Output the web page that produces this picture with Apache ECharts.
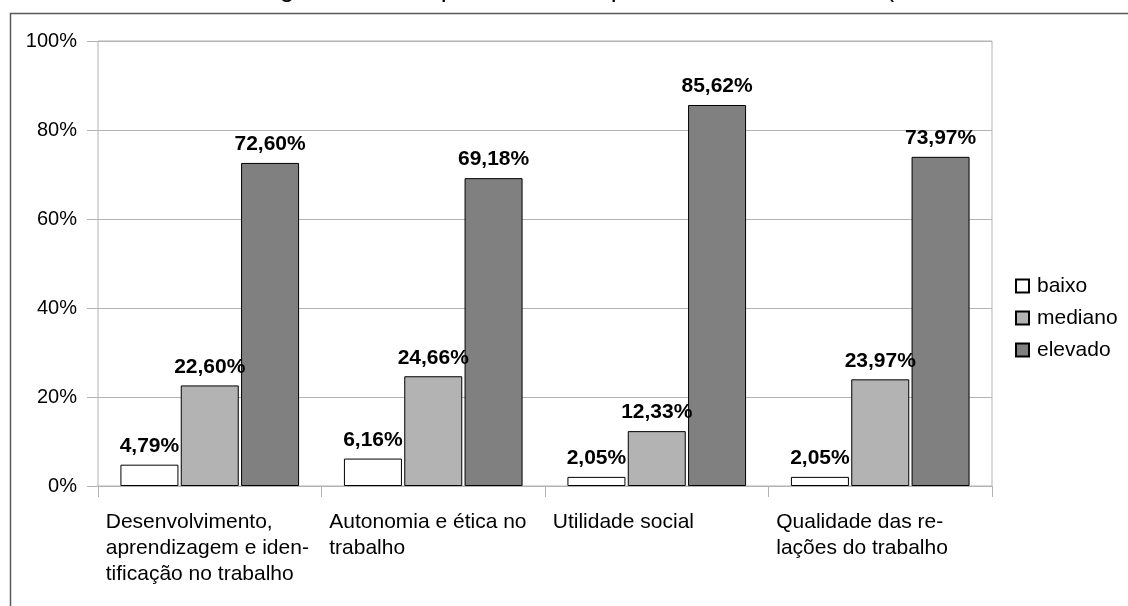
<!DOCTYPE html>
<html>
<head>
<meta charset="utf-8">
<script src="https://cdn.jsdelivr.net/npm/echarts@6/dist/echarts.min.js"></script>
<style>
html,body{margin:0;padding:0;background:#fff;}
#c{width:1128px;height:606px;}
</style>
</head>
<body>
<div id="c"></div>
<script>
const titleText = "Percentagem do nível por dimensão para os colaboradores (amostra total de servidores)";
const categories = [
  "Desenvolvimento,\naprendizagem e iden-\ntificação no trabalho",
  "Autonomia e ética no\ntrabalho",
  "Utilidade social",
  "Qualidade das re-\nlações do trabalho"
];
const seriesNames = ["baixo", "mediano", "elevado"];
const baixo = [4.79, 6.16, 2.05, 2.05];
const mediano = [22.60, 24.66, 12.33, 23.97];
const elevado = [72.60, 69.18, 85.62, 73.97];
const yTicks = [0, 20, 40, 60, 80, 100];

const colors = ["#ffffff", "#b3b3b3", "#808080"];
const FONT = "Liberation Sans, Arial, sans-serif";
const valueSets = [baixo, mediano, elevado];

// fit the (mostly cropped-off) title so its visible descenders line up with the reference
const mctx = document.createElement('canvas').getContext('2d');
mctx.font = '100px "Liberation Sans", Arial, sans-serif';
const iG = titleText.indexOf('g');
const iPar = titleText.indexOf('(');
const wG = mctx.measureText(titleText.slice(0, iG)).width + mctx.measureText('g').width / 2;
const wPar = mctx.measureText(titleText.slice(0, iPar)).width + mctx.measureText('(').width / 2;
let titleSize = 100 * (890 - 287) / (wPar - wG);
if (!(titleSize > 15 && titleSize < 35)) titleSize = 23.5;
const titleLeft = 287 - wG * titleSize / 100 - 5;
const titleTop = -27 - (titleSize - 23.5) * 0.9;

const chart = echarts.init(document.getElementById('c'), null, {renderer: 'canvas'});
chart.setOption({
  animation: false,
  backgroundColor: '#fff',
  textStyle: {fontFamily: FONT},
  title: {
    text: titleText,
    left: titleLeft,
    top: titleTop,
    padding: 5,
    textStyle: {fontFamily: FONT, fontSize: titleSize, fontWeight: 'normal', color: '#000'}
  },
  graphic: [{
    type: 'rect',
    silent: true,
    shape: {x: 10.5, y: 13.5, width: 1300, height: 800},
    style: {fill: 'none', stroke: '#5a5a5a', lineWidth: 1.5}
  }],
  legend: {
    orient: 'vertical',
    left: 1010,
    top: 270,
    itemWidth: 13,
    itemHeight: 13,
    itemGap: 10,
    icon: 'rect',
    textStyle: {fontFamily: FONT, fontSize: 21, color: '#000', padding: [0, 0, 0, 3], lineHeight: 22},
    data: seriesNames
  },
  grid: {
    left: 98, right: 136, top: 41, bottom: 120,
    show: true, borderColor: '#b3b3b3', borderWidth: 1,
    containLabel: false
  },
  xAxis: {
    type: 'category',
    data: categories,
    axisLine: {lineStyle: {color: '#b3b3b3', width: 1}},
    axisTick: {show: true, length: 11, lineStyle: {color: '#b3b3b3'}},
    axisLabel: {
      margin: 23,
      color: '#000',
      align: 'center',
      formatter: function (v) {
        return v.split('\n').map(function (s) { return '{a|' + s + '}'; }).join('\n');
      },
      rich: {
        a: {width: 208, align: 'left', fontSize: 21, lineHeight: 26, fontFamily: FONT, color: '#000'}
      }
    }
  },
  yAxis: {
    type: 'value',
    min: yTicks[0],
    max: yTicks[yTicks.length - 1],
    interval: 20,
    axisLine: {show: false},
    axisTick: {show: true, length: 11, lineStyle: {color: '#b3b3b3'}},
    splitLine: {lineStyle: {color: '#b3b3b3', width: 1}},
    axisLabel: {
      margin: 21,
      color: '#000',
      fontSize: 20,
      fontFamily: FONT,
      formatter: '{value}%'
    }
  },
  series: seriesNames.map(function (name, i) {
    return {
      name: name,
      type: 'bar',
      data: valueSets[i],
      barWidth: 58,
      barGap: '4%',
      itemStyle: {color: colors[i], borderColor: '#000', borderWidth: 1},
      label: {
        show: true,
        position: 'top',
        distance: 8,
        fontFamily: FONT,
        fontSize: 21,
        fontWeight: 'bold',
        color: '#000',
        formatter: function (p) { return p.value.toFixed(2).replace('.', ',') + '%'; }
      }
    };
  })
});
</script>
</body>
</html>
